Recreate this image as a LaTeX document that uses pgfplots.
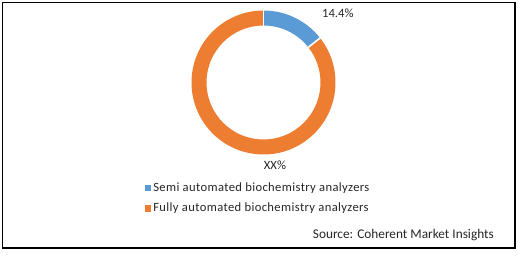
\documentclass[border=0pt]{standalone}
\usepackage{fontspec}
\setmainfont{Carlito}
\newfontfamily\legfont[LetterSpace=3]{Carlito}
\usepackage{pgfplots}
\usepackage{pgfplotstable}
\pgfplotsset{compat=1.18}
\definecolor{semiblue}{HTML}{5B9BD5}
\definecolor{fullorange}{HTML}{ED7D31}
\definecolor{txt}{HTML}{262626}
\pgfplotstableread{
share
14.4
85.6
}\shares
\begin{document}
\begin{tikzpicture}
\useasboundingbox (0,0) rectangle (518bp,259bp);
\pgfplotstablegetelem{0}{share}\of\shares \let\sA\pgfplotsretval
\pgfplotstablegetelem{1}{share}\of\shares \let\sB\pgfplotsretval
\pgfmathsetmacro{\aStart}{90}
\pgfmathsetmacro{\aMid}{90-3.6*\sA}
\pgfmathsetmacro{\aEnd}{\aMid-3.6*\sB}
\def\Ro{72bp}
\def\Ri{57bp}
\begin{axis}[
  at={(0,0)}, anchor=south west,
  x=1bp, y=1bp, scale only axis,
  xmin=0, xmax=518, ymin=0, ymax=259,
  hide axis, clip=false,
  legend style={at={(axis cs:145,61)}, anchor=west, draw=none, fill=none,
    font=\legfont\fontsize{12.6bp}{15bp}\selectfont\color{txt},
    row sep=8bp, inner sep=0pt,
    nodes={inner xsep=2.5bp, inner ysep=1bp}},
  legend cell align=left,
]
% ring sectors from the data
\fill[semiblue] ([shift={(\aStart:\Ro)}]axis cs:263.5,176.5) arc[start angle=\aStart, end angle=\aMid, radius=\Ro]
   -- ([shift={(\aMid:\Ri)}]axis cs:263.5,176.5) arc[start angle=\aMid, end angle=\aStart, radius=\Ri] -- cycle;
\fill[fullorange] ([shift={(\aMid:\Ro)}]axis cs:263.5,176.5) arc[start angle=\aMid, end angle=\aEnd, radius=\Ro]
   -- ([shift={(\aEnd:\Ri)}]axis cs:263.5,176.5) arc[start angle=\aEnd, end angle=\aMid, radius=\Ri] -- cycle;
\draw[white, line width=1.6bp] ([shift={(\aStart:55bp)}]axis cs:263.5,176.5) -- ([shift={(\aStart:74bp)}]axis cs:263.5,176.5);
\draw[white, line width=1.6bp] ([shift={(\aMid:55bp)}]axis cs:263.5,176.5) -- ([shift={(\aMid:74bp)}]axis cs:263.5,176.5);
\addlegendimage{legend image code/.code={\fill[semiblue] (0bp,-2.6bp) rectangle (5.2bp,2.6bp);}}
\addlegendentry{Semi automated biochemistry analyzers}
\addlegendimage{legend image code/.code={\fill[fullorange] (0bp,-2.6bp) rectangle (5.2bp,2.6bp);}}
\addlegendentry{Fully automated biochemistry analyzers}
\node[anchor=west, font=\fontsize{12.6bp}{15bp}\selectfont, text=txt, inner sep=0pt] at (axis cs:322,246) {14.4\%};
\node[font=\fontsize{12.6bp}{15bp}\selectfont, text=txt, inner sep=0pt] at (axis cs:275,94) {XX\%};
\node[anchor=east, font=\fontsize{13.3bp}{15bp}\selectfont, text=txt, inner sep=0pt] at (axis cs:494,24) {Source: Coherent Market Insights};
\draw[black, line width=1.4bp] (axis cs:2.5,11) rectangle (axis cs:515,256.5);
\end{axis}
\end{tikzpicture}
\end{document}
